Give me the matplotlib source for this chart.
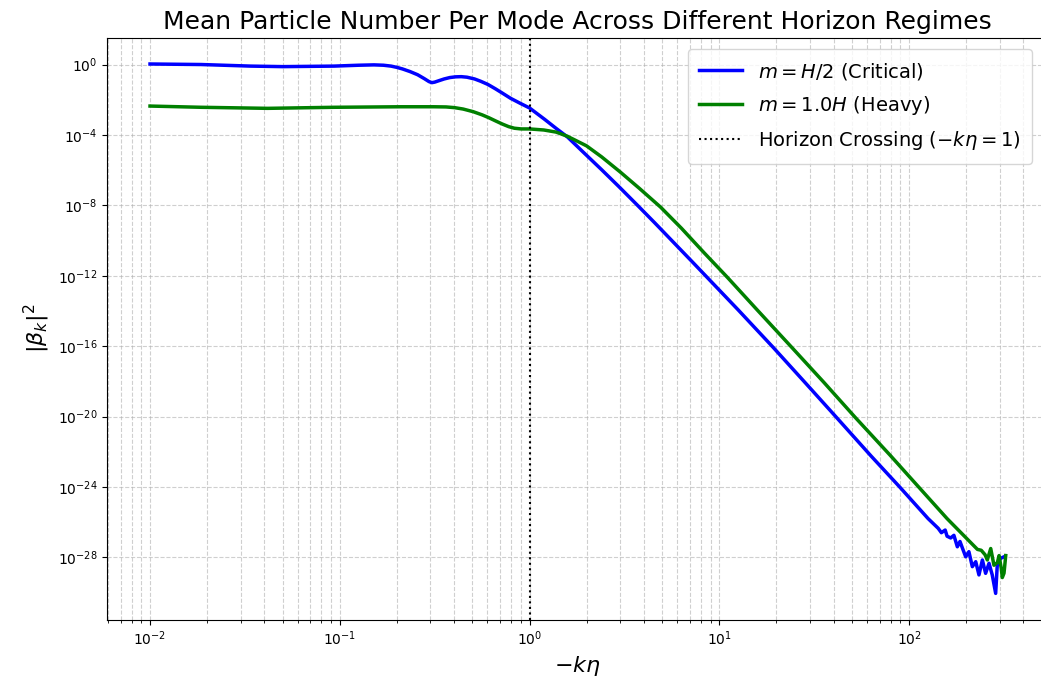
import numpy as np
import matplotlib
matplotlib.use("Agg")
import matplotlib.pyplot as plt
from matplotlib.ticker import NullLocator

# Values (log10 of -k*eta and log10 of |beta_k|^2)
blue_logk = [-2.0, -1.73, -1.47, -1.30, -1.03, -0.90, -0.82, -0.77, -0.73, -0.70,
             -0.67, -0.63, -0.59, -0.555, -0.53, -0.515, -0.50, -0.478, -0.45, -0.42,
             -0.39, -0.36, -0.33, -0.29, -0.258, -0.22, -0.18, -0.144, -0.10, -0.05,
             0.0, 0.08, 0.14, 0.20, 0.28, 0.38, 0.47, 0.567, 0.66, 0.76,
             0.86, 0.945, 1.10, 1.286, 1.45, 1.613, 1.80, 1.95, 2.10, 2.153,
             2.17, 2.19, 2.20, 2.219, 2.236, 2.254, 2.268, 2.28, 2.298, 2.315,
             2.333, 2.351, 2.368, 2.386, 2.403, 2.421, 2.438, 2.456, 2.465, 2.482,
             2.5]
blue_logy = [0.03, 0.0, -0.09, -0.12, -0.09, -0.04, -0.02, -0.04, -0.09, -0.16,
             -0.25, -0.40, -0.58, -0.80, -0.97, -1.03, -1.0, -0.92, -0.82, -0.74,
             -0.70, -0.69, -0.72, -0.82, -0.95, -1.13, -1.38, -1.62, -1.92, -2.2,
             -2.47, -3.12, -3.63, -4.12, -4.95, -5.98, -6.93, -7.98, -9.0, -10.12,
             -11.24, -12.2, -13.95, -16.1, -18.05, -20.0, -22.25, -24.0, -25.8, -26.35,
             -26.6, -26.45, -26.8, -26.9, -26.75, -27.4, -27.1, -27.45, -27.97, -27.68,
             -28.53, -28.25, -29.0, -28.15, -28.91, -28.34, -29.0, -30.05, -28.34, -28.06,
             -27.97]

green_logk = [-2.0, -1.73, -1.38, -1.03, -0.68, -0.506, -0.44, -0.395, -0.35, -0.297,
              -0.25, -0.215, -0.18, -0.144, -0.11, -0.08, -0.044, 0.0, 0.075, 0.14,
              0.20, 0.30, 0.38, 0.477, 0.58, 0.69, 0.80, 0.92, 1.043, 1.20,
              1.384, 1.55, 1.716, 1.90, 2.054, 2.20, 2.36, 2.38, 2.40, 2.412,
              2.43, 2.447, 2.465, 2.474, 2.485, 2.491, 2.5, 2.509]
green_logy = [-2.36, -2.43, -2.49, -2.43, -2.40, -2.40, -2.41, -2.45, -2.53, -2.68,
              -2.86, -3.02, -3.2, -3.38, -3.53, -3.62, -3.66, -3.66, -3.72, -3.84,
              -4.08, -4.62, -5.25, -6.1, -7.05, -8.1, -9.3, -10.7, -12.1, -13.95,
              -16.1, -18.05, -20.05, -22.2, -24.05, -25.8, -27.55, -27.6, -27.85, -28.15,
              -27.5, -28.45, -28.3, -27.9, -28.6, -29.15, -28.9, -27.9]

labels = [r"$m = H/2$ (Critical)", r"$m = 1.0H$ (Heavy)", r"Horizon Crossing ($-k\eta = 1$)"]
horizon_k = 1.0

fig = plt.figure(figsize=(10.41, 6.86), dpi=100)
ax = fig.add_axes([0.1030, 0.0965, 0.9034, 0.8487])

ax.plot(10 ** np.array(blue_logk), 10 ** np.array(blue_logy), color="blue", lw=2.5, label=labels[0])
ax.plot(10 ** np.array(green_logk), 10 ** np.array(green_logy), color="green", lw=2.5, label=labels[1])
ax.axvline(horizon_k, color="black", ls=":", lw=1.5, label=labels[2])

ax.set_xscale("log")
ax.set_yscale("log")
ax.set_xlim(10 ** -2.2255, 10 ** 2.73)
ax.set_ylim(10 ** -31.55, 10 ** 1.53)
ax.yaxis.set_minor_locator(NullLocator())

ax.grid(True, which="both", ls="--", alpha=0.6)
ax.set_title("Mean Particle Number Per Mode Across Different Horizon Regimes", fontsize=18)
ax.set_xlabel(r"$-k\eta$", fontsize=16)
ax.set_ylabel(r"$|\beta_k|^2$", fontsize=16)
ax.legend(loc="upper right", fontsize=14, labelspacing=0.63, handlelength=2.2,
          borderpad=0.6, bbox_to_anchor=(0.994, 0.997))

fig.savefig("out.png", dpi=100)
